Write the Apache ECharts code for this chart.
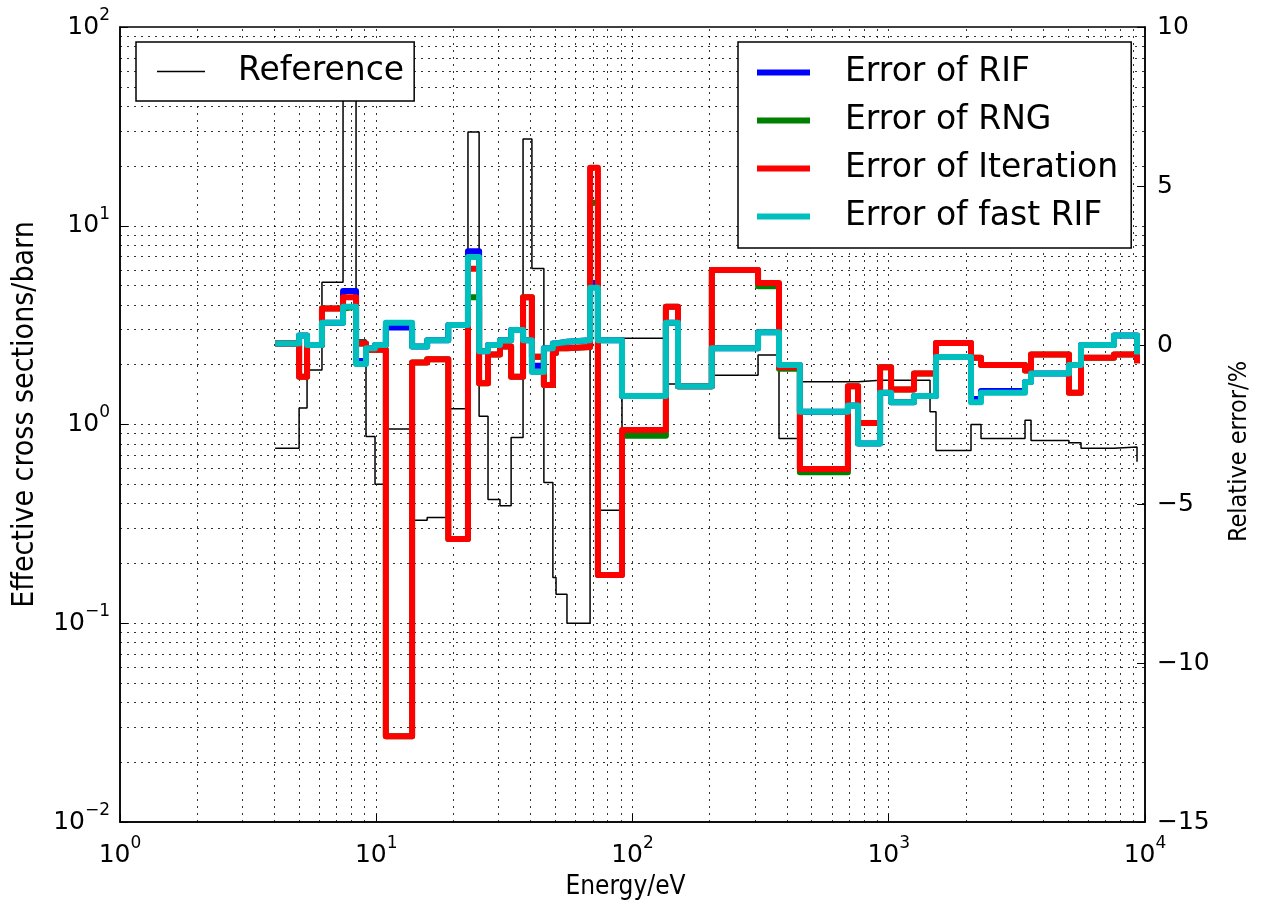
<!DOCTYPE html>
<html lang="en">
<head>
<meta charset="UTF-8">
<title>Effective cross sections</title>
<script src="https://cdn.jsdelivr.net/npm/echarts@6/dist/echarts.min.js"></script>
<style>
  html, body { margin: 0; padding: 0; background: #fff; }
  #chart { width: 1264px; height: 911px; }
</style>
</head>
<body>
<div id="chart"></div>
<script>
// group edges (eV); last entry closes the last group
const energy = [4.03, 5.0, 5.37, 6.14, 7.42, 8.34, 9.12, 9.89, 10.9, 13.8, 15.8, 19.1, 22.8, 25.2, 27.3,
  30.4, 33.6, 37.4, 40.5, 45.1, 48.9, 50.3, 55.5, 68.3, 73.3, 91.0, 135, 150.5, 204, 309, 373, 450,
  693, 759, 925, 1021, 1255, 1449, 1529, 2094, 2291, 3402, 3591, 5050, 5627, 7568, 9308];

// reference effective cross sections (barn)
const reference = [0.76, 1.21, 1.88, 5.2, 60, 2.66, 0.87, 0.50, 0.95, 0.33, 0.34, 1.2, 29.6, 1.1, 0.42,
  0.39, 0.86, 27.3, 6.1, 0.51, 0.17, 0.14, 0.10, 5.2, 0.37, 2.72, 1.6, 1.6, 1.77, 2.24, 0.85, 1.64,
  1.64, 1.67, 1.67, 1.67, 1.67, 1.16, 0.74, 1.0, 0.85, 1.05, 0.83, 0.81, 0.76, 0.77, 0.65];

// relative errors (%)
const errRIF = [0.05, 0.3, 0.0, 0.7, 1.7, -0.5, -0.1, 0.0, 0.55, -0.05, 0.15, 0.63, 2.95, -0.2, 0.0,
  0.15, 0.47, 0.15, -0.65, -0.1, 0.05, 0.1, 0.15, 1.95, 0.15, -1.6, 0.7, -1.3, -0.1, 0.4, -0.63, -2.1,
  -1.9, -3.1, -1.5, -1.8, -1.6, -1.6, -0.38, -1.7, -1.45, -1.16, -0.9, -0.63, 0.0, 0.3, -0.3];

const errRNG = [0.05, -1.0, 0.0, 1.15, 1.2, 0.05, -0.15, -0.15, -12.3, -0.55, -0.45, -6.1, 1.5, -1.2, -0.3,
  -0.05, -1.0, 1.5, -0.37, -1.26, -0.25, -0.1, -0.06, 4.47, -7.23, -2.85, 1.2, -1.3, 2.36, 1.85, -0.75, -4.0,
  -1.3, -2.45, -0.7, -1.4, -0.9, -0.9, 0.06, -0.4, -0.63, -0.8, -0.3, -1.5, -0.4, -0.3, -0.57];

const errIteration = [0.05, -1.0, 0.0, 1.15, 1.5, 0.05, -0.15, -0.15, -12.3, -0.55, -0.45, -6.1, 2.4, -1.2, -0.3,
  -0.05, -1.0, 1.5, -0.37, -1.26, -0.25, -0.1, -0.06, 5.57, -7.23, -2.67, 1.2, -1.3, 2.36, 1.95, -0.7, -3.9,
  -1.3, -2.45, -0.7, -1.4, -0.9, -0.9, 0.06, -0.4, -0.63, -0.8, -0.3, -1.5, -0.4, -0.3, -0.57];

const errFastRIF = [0.05, 0.3, 0.0, 0.7, 1.2, -0.6, -0.1, 0.0, 0.7, -0.05, 0.15, 0.63, 2.77, -0.2, 0.0,
  0.15, 0.47, 0.15, -0.85, -0.1, 0.05, 0.1, 0.15, 1.8, 0.15, -1.6, 0.7, -1.3, -0.1, 0.4, -0.63, -2.1,
  -1.9, -3.1, -1.5, -1.8, -1.6, -1.6, -0.38, -1.8, -1.5, -1.16, -0.9, -0.63, 0.0, 0.3, -0.3];

// dotted grid positions (log decades + minors)
const xGrid = [];
for (let d = 1; d <= 1000; d *= 10) for (let k = 1; k <= 9; k++) if (d * k > 1) xGrid.push(d * k);
const yGrid = [];
for (let d = 0.01; d < 50; d *= 10) for (let k = 1; k <= 9; k++) if (k > 1 || d > 0.02) yGrid.push(+(d * k).toPrecision(3));

const font = 'DejaVu Sans';
const nameFont = '"DejaVu Sans Condensed", "Liberation Sans Narrow", "DejaVu Sans", sans-serif';

function pairs(vals) {
  return energy.map((e, i) => [e, vals[i]]);
}

function powLabel(v) {
  let p = Math.round(Math.log10(v));
  return '{b|10}{s|' + String(p).replace('-', '\u2212') + '}';
}

const powRich = {
  b: { fontSize: 25, lineHeight: 40, fontFamily: font, color: '#000' },
  s: { fontSize: 17, lineHeight: 16, verticalAlign: 'top', fontFamily: font, color: '#000' }
};

function errLine(name, vals, color) {
  return {
    name: name, type: 'line', step: 'end', xAxisIndex: 0, yAxisIndex: 1,
    symbol: 'none', data: pairs(vals),
    lineStyle: { color: color, width: 6, join: 'round' },
    itemStyle: { color: color }
  };
}

let chart = echarts.init(document.getElementById('chart'));
let option = {
  animation: false,
  grid: { left: 120, right: 119, top: 27, bottom: 89, show: true, borderColor: '#000', borderWidth: 1.5 },
  legend: [{
    data: [{ name: 'Reference', icon: 'rect' }],
    orient: 'vertical', left: 136, top: 42,
    itemWidth: 48, itemHeight: 1.5, itemGap: 0,
    padding: [13, 10, 13, 21],
    borderColor: '#000', borderWidth: 1.5, backgroundColor: '#fff',
    textStyle: { fontSize: 33, lineHeight: 32, fontFamily: font, color: '#000', padding: [0, 0, 0, 28] }
  }, {
    data: [
      { name: 'Error of RIF', icon: 'rect' },
      { name: 'Error of RNG', icon: 'rect' },
      { name: 'Error of Iteration', icon: 'rect' },
      { name: 'Error of fast RIF', icon: 'rect' }
    ],
    orient: 'vertical', left: 738, top: 42,
    itemWidth: 53, itemHeight: 6, itemGap: 15,
    padding: [14, 13, 15, 19],
    borderColor: '#000', borderWidth: 1.5, backgroundColor: '#fff',
    textStyle: { fontSize: 33, lineHeight: 32, fontFamily: font, color: '#000', padding: [0, 0, 0, 30] }
  }],
  xAxis: {
    type: 'log', logBase: 10, min: 1, max: 10000, splitNumber: 4,
    axisLine: { show: true, onZero: false, lineStyle: { color: '#000', width: 1.5 } },
    axisTick: { inside: true, length: 8, lineStyle: { color: '#000' } },
    splitLine: { show: false },
    axisLabel: { formatter: powLabel, rich: powRich, margin: 13, showMinLabel: true, showMaxLabel: true },
    name: 'Energy/eV', nameLocation: 'middle', nameGap: 52,
    nameTextStyle: { fontSize: 26, fontFamily: nameFont, color: '#000', padding: [0, 14, 0, 0] }
  },
  yAxis: [{
    type: 'log', logBase: 10, min: 0.01, max: 100, splitNumber: 4, position: 'left',
    axisLine: { show: true, onZero: false, lineStyle: { color: '#000', width: 1.5 } },
    axisTick: { inside: true, length: 8, lineStyle: { color: '#000' } },
    splitLine: { show: false },
    axisLabel: { formatter: powLabel, rich: powRich, margin: 10, showMinLabel: true, showMaxLabel: true },
    name: 'Effective cross sections/barn', nameLocation: 'middle', nameRotate: 90, nameGap: 80,
    nameTextStyle: { fontSize: 30, fontFamily: nameFont, color: '#000', padding: [0, 0, 0, 20] }
  }, {
    type: 'value', min: -15, max: 10, interval: 5, position: 'right',
    axisLine: { show: true, onZero: false, lineStyle: { color: '#000', width: 1.5 } },
    axisTick: { inside: true, length: 8, lineStyle: { color: '#000' } },
    splitLine: { show: false },
    axisLabel: {
      formatter: v => (v < 0 ? '\u2212' + (-v) : String(v)),
      fontSize: 25, fontFamily: font, color: '#000', margin: 12
    },
    name: 'Relative error/%', nameLocation: 'middle', nameRotate: 90, nameGap: 82,
    nameTextStyle: { fontSize: 25, fontFamily: nameFont, color: '#000', padding: [0, 54, 0, 0] }
  }],
  series: [{
    name: 'grid', type: 'line', data: [], silent: true, xAxisIndex: 0, yAxisIndex: 0,
    markLine: {
      silent: true, z: 1, symbol: ['none', 'none'], label: { show: false },
      lineStyle: { color: '#000', width: 1, type: [2, 5], opacity: 0.8 },
      emphasis: { disabled: true },
      data: xGrid.map(v => ({ xAxis: v })).concat(yGrid.map(v => ({ yAxis: v })))
    }
  }, {
    name: 'Reference', type: 'line', step: 'end', xAxisIndex: 0, yAxisIndex: 0,
    symbol: 'none', data: pairs(reference),
    lineStyle: { color: '#000', width: 1.5 },
    itemStyle: { color: '#000' }
  },
  errLine('Error of RIF', errRIF, '#0000ff'),
  errLine('Error of RNG', errRNG, '#008000'),
  errLine('Error of Iteration', errIteration, '#ff0000'),
  errLine('Error of fast RIF', errFastRIF, '#00bfbf')
  ]
};
chart.setOption(option);
</script>
</body>
</html>
